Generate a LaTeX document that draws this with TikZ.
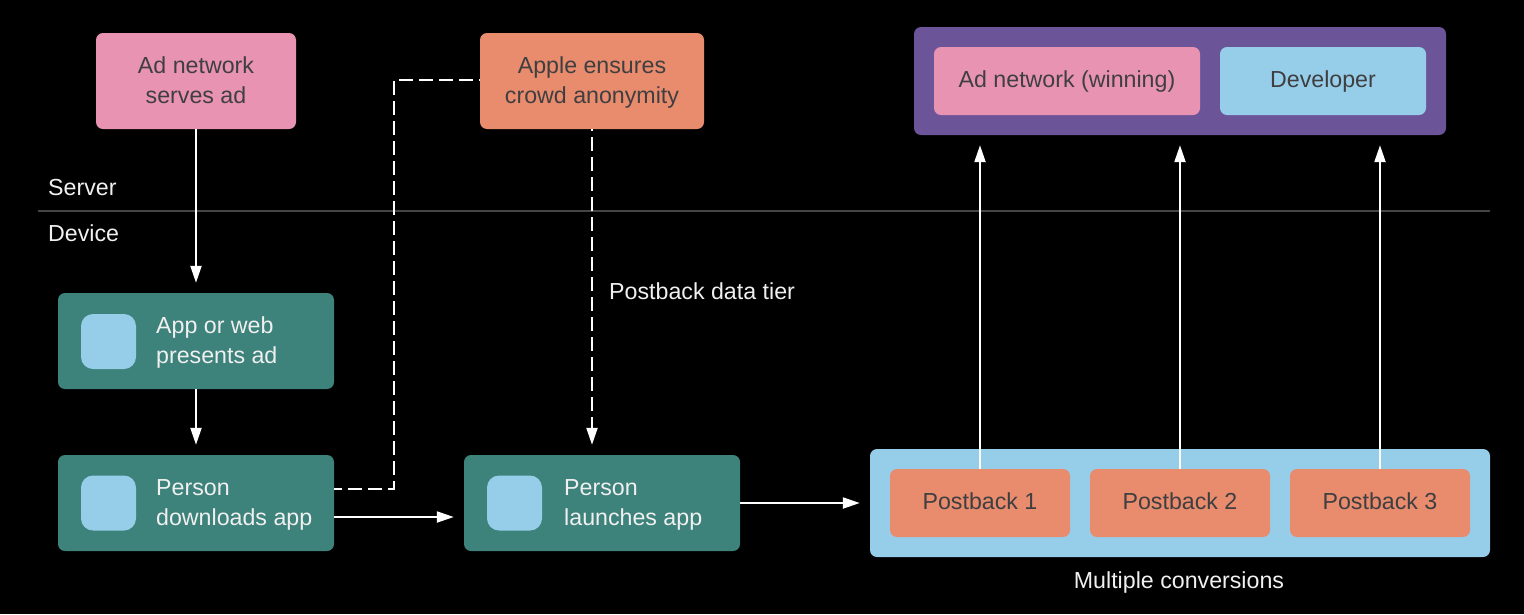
\documentclass[tikz,border=0pt]{standalone}
\usepackage{fontspec}
\setmainfont{Liberation Sans}
\usetikzlibrary{arrows.meta,calc}
\definecolor{cpink}{HTML}{E993B2}
\definecolor{corange}{HTML}{E98B6D}
\definecolor{cteal}{HTML}{3D837B}
\definecolor{cblue}{HTML}{96CDE9}
\definecolor{cpurple}{HTML}{6C5499}
\definecolor{ctext}{HTML}{3F3F41}
\definecolor{clabel}{HTML}{F0F0F0}
\definecolor{cline}{HTML}{454545}
\newcommand\tstrut{\rule[-8pt]{0pt}{30pt}}
\newcommand\sstrut{\rule[-9pt]{0pt}{30pt}}
\tikzset{
  x=1pt,y=-1pt,
  box/.style={rounded corners=7pt,inner sep=0pt,align=center,text=ctext,font=\fontsize{23.2}{30}\selectfont},
  pinkbox/.style={box,fill=cpink},
  orangebox/.style={box,fill=corange},
  bluebox/.style={box,fill=cblue},
  tealbox/.style={box,fill=cteal,minimum width=276pt,minimum height=96pt},
  icon/.style={fill=cblue,rounded corners=12pt,minimum size=55pt,inner sep=0pt},
  lbl/.style={text=clabel,font=\fontsize{23.2}{30}\selectfont,inner sep=0pt,align=left},
  arr/.style={draw=white,line width=2.2pt,-{Triangle[length=17pt,width=11pt]},shorten >=10pt},
  dash line/.style={draw=white,line width=2.2pt,dash pattern=on 14pt off 6pt},
}
\begin{document}
\begin{tikzpicture}
\useasboundingbox[fill=black] (0,0) rectangle (1524,614);
\draw[cline,line width=1.5pt] (38,211) coordinate (s1) -- (1490,211) coordinate (s2);
\node[lbl,anchor=west] (server) at (48,188.5) {\tstrut Server};
\node[lbl,anchor=west] (device) at (48,234) {\tstrut Device};
\node[pinkbox,minimum width=200pt,minimum height=96pt] (serve) at (196,81) {\tstrut Ad network\\\tstrut serves ad};
\node[orangebox,minimum width=224pt,minimum height=96pt] (apple) at (592,81) {\tstrut Apple ensures\\\tstrut crowd anonymity};
\node[tealbox] (present) at (196,341) {};
\node[tealbox] (download) at (196,503) {};
\node[tealbox] (launch) at (602,503) {};
\node[icon] (i1) at (108.5,341.5) {};
\node[icon] (i2) at (108.5,503) {};
\node[icon] (i3) at (514.5,503) {};
\node[lbl,anchor=west] (t1) at (156,341) {\tstrut App or web\\\tstrut presents ad};
\node[lbl,anchor=west] (t2) at (156,503) {\tstrut Person\\\tstrut downloads app};
\node[lbl,anchor=west] (t3) at (564,503) {\tstrut Person\\\tstrut launches app};
\node[box,fill=cpurple,minimum width=532pt,minimum height=108pt] (dest) at (1180,81) {};
\node[pinkbox,minimum width=266pt,minimum height=68pt] (win) at (1067,81) {\sstrut Ad network (winning)};
\node[bluebox,minimum width=206pt,minimum height=68pt] (dev) at (1323,81) {\sstrut Developer};
\node[bluebox,minimum width=620pt,minimum height=108pt] (conv) at (1180,503) {};
\node[orangebox,minimum width=180pt,minimum height=68pt] (p1) at (980,503) {\sstrut Postback 1};
\node[orangebox,minimum width=180pt,minimum height=68pt] (p2) at (1180,503) {\sstrut Postback 2};
\node[orangebox,minimum width=180pt,minimum height=68pt] (p3) at (1380,503) {\sstrut Postback 3};
\node[lbl] (multi) at (1179,581.5) {\tstrut Multiple conversions};
\node[lbl,anchor=west] (tier) at (609,292) {\tstrut Postback data tier};
\draw[arr] (serve.south) -- (present.north);
\draw[arr] (present.south) -- (download.north);
\draw[arr] ([yshift=-14pt]download.east) -- ([yshift=-14pt]launch.west);
\draw[arr] (launch.east) -- (conv.west);
\draw[arr] (p1.north) -- (p1.north |- dest.south);
\draw[arr] (p2.north) -- (p2.north |- dest.south);
\draw[arr] (p3.north) -- (p3.north |- dest.south);
\draw[arr,dash pattern=on 14pt off 6pt,dash phase=12pt] (apple.south) -- (apple.south |- launch.north);
\draw[dash line,dash phase=6pt] ([yshift=14pt]download.east) -| (394,80) coordinate (bend) -- ([yshift=1pt]apple.west);
\end{tikzpicture}
\end{document}
